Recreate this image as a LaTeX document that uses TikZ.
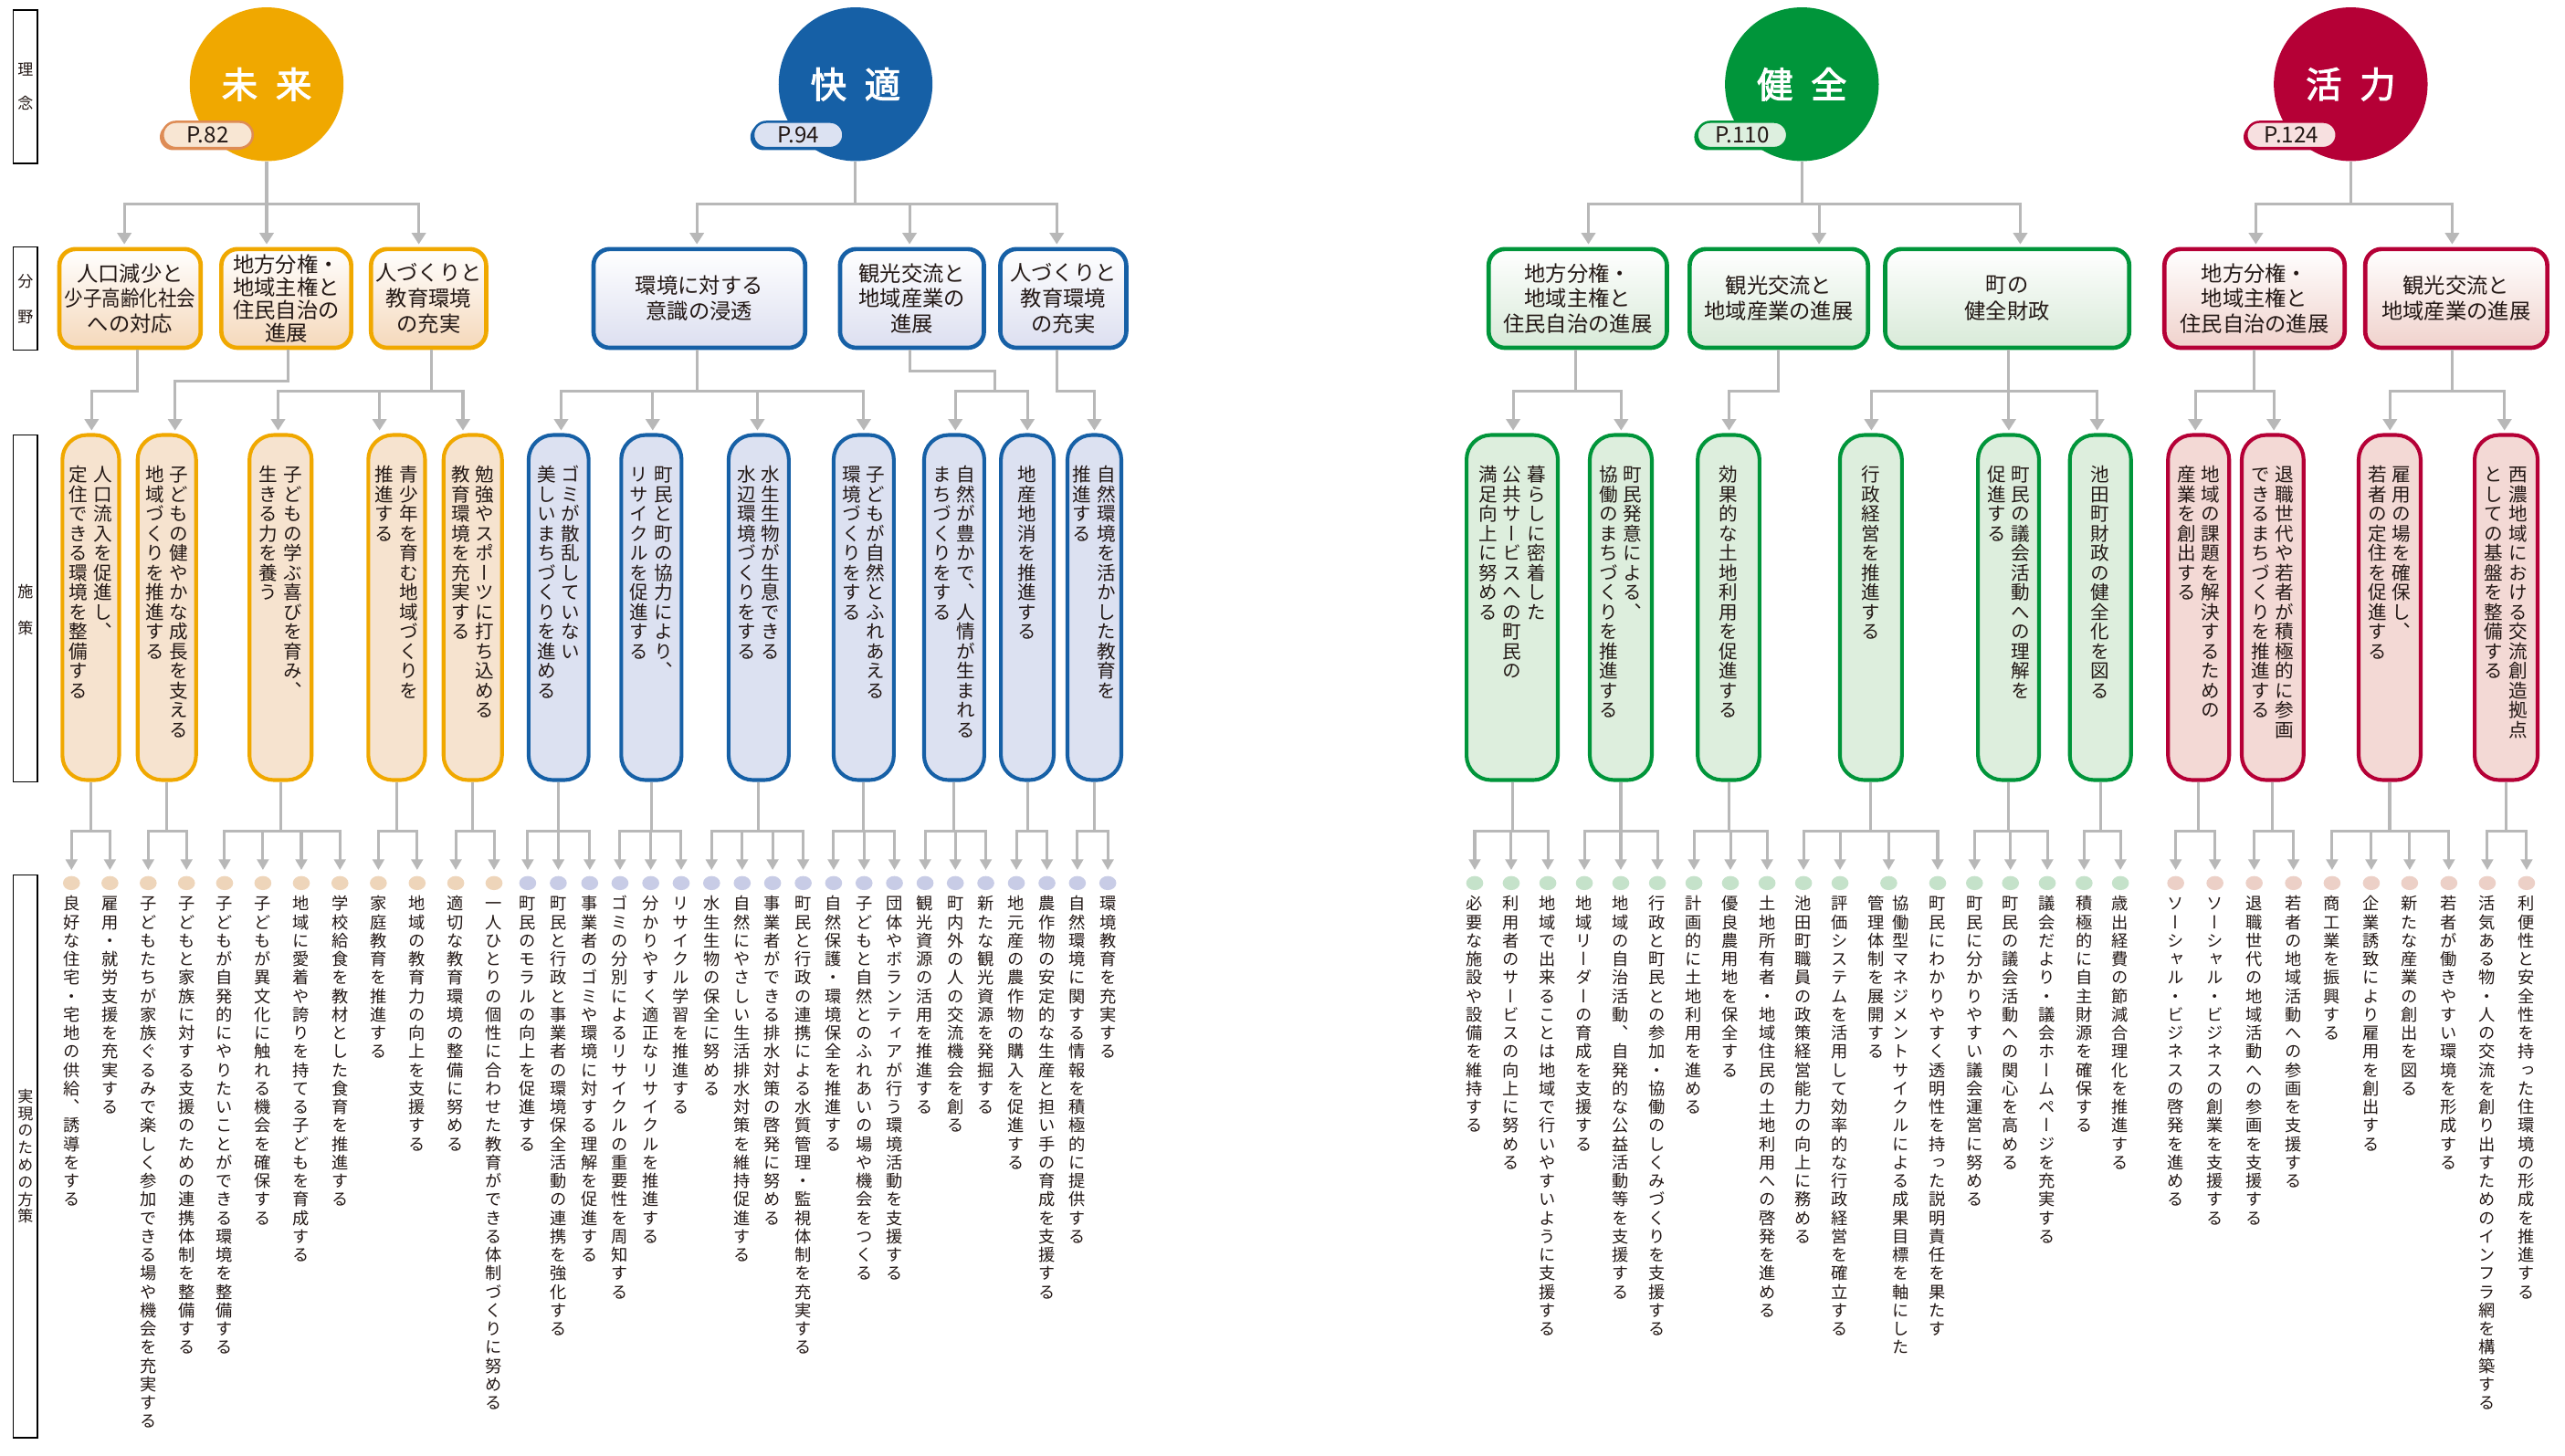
\documentclass[tikz,border=0pt]{standalone}
\usepackage{graphicx}
\usepackage{fontspec}
\setmainfont{Noto Sans CJK JP}
\newfontfamily\jpv[RawFeature=+vert]{Noto Sans CJK JP}
\newfontfamily\jpb[FakeBold=2.5]{Noto Sans CJK JP}
\usetikzlibrary{arrows.meta,shapes.geometric}

\definecolor{txt}{HTML}{231815}
\definecolor{lnc}{HTML}{B8B8B8}
\definecolor{oC}{HTML}{F0A800}
\definecolor{oF}{HTML}{F6E3CF}
\definecolor{oG}{HTML}{F5D8BA}
\definecolor{oD}{HTML}{EED5BA}
\definecolor{oT}{HTML}{DE8C55}
\definecolor{oTF}{HTML}{F8E6D3}
\definecolor{bC}{HTML}{1660A6}
\definecolor{bF}{HTML}{DCE1F1}
\definecolor{bG}{HTML}{DCDFF0}
\definecolor{bD}{HTML}{C8CCE6}
\definecolor{bTF}{HTML}{DCE2F2}
\definecolor{gC}{HTML}{00953A}
\definecolor{gF}{HTML}{DDEEDD}
\definecolor{gG}{HTML}{D8EAD8}
\definecolor{gD}{HTML}{C5E2CA}
\definecolor{gTF}{HTML}{DDEFDF}
\definecolor{rC}{HTML}{B50036}
\definecolor{rF}{HTML}{F3D9D5}
\definecolor{rG}{HTML}{F0D2CC}
\definecolor{rD}{HTML}{ECD0C7}
\definecolor{rTF}{HTML}{F7E0E0}

\ExplSyntaxOn
\dim_new:N \l__vt_pitch_dim
\dim_new:N \l__vt_gap_dim
\tl_new:N \l__vt_text_tl
\NewDocumentCommand{\SetPitch}{mm}{ \dim_set:Nn \l__vt_pitch_dim {#1} \dim_set:Nn \l__vt_gap_dim {#2} }
\NewDocumentCommand{\VC}{m}
 {
  \tl_set:Nx \l__vt_text_tl {#1}
  \vtop
   {
    \baselineskip = \l__vt_pitch_dim
    \lineskip = 0pt
    \lineskiplimit = -\maxdimen
    \tl_map_inline:Nn \l__vt_text_tl { \hbox_to_wd:nn { 1em } { \hss ##1 \hss } }
   }
 }
\NewDocumentCommand{\VV}{mm}{ \VC{#2} \hskip \l__vt_gap_dim \VC{#1} }
\NewDocumentCommand{\VVV}{mmm}{ \VC{#3} \hskip \l__vt_gap_dim \VC{#2} \hskip \l__vt_gap_dim \VC{#1} }
\ExplSyntaxOff

\tikzset{
  conn/.style={draw=lnc, line width=1.7pt},
  arr/.style={conn, -{Triangle[width=8.5pt,length=7pt]}, shorten >=1.6pt},
  arrs/.style={conn, -{Triangle[width=7pt,length=6.5pt]}, shorten >=3.5pt},
  circ/.style={circle, fill=#1, minimum size=94pt, inner sep=0pt, text=white, font=\jpb\fontsize{22pt}{22pt}\selectfont},
  tagbox/.style 2 args={draw=#1, fill=#2, line width=1.4pt, rounded corners=8pt, minimum width=55pt, minimum height=16pt, inner sep=0pt, text=txt, font=\fontsize{13.5pt}{13.5pt}\selectfont, preaction={fill=#1, transform canvas={xshift=-1.8pt, yshift=-1.3pt}}},
  cat/.style 2 args={draw=#1, top color=white, bottom color=#2, line width=2.6pt, rounded corners=10pt, minimum height=60.4pt, inner sep=0pt, align=center, text=txt, font=\fontsize{13pt}{15.5pt}\selectfont},
  pbox/.style 2 args={draw=#1, fill=#2, line width=2.3pt, rounded corners=15pt, minimum height=211pt, inner sep=0pt},
  ptext/.style={anchor=base, inner sep=0pt, text=txt, font=\jpv\fontsize{11.5pt}{12pt}\selectfont\SetPitch{12pt}{3.3pt}},
  bdot/.style={ellipse, fill=#1, minimum width=10.4pt, minimum height=8.6pt, inner sep=0pt},
  btext/.style={anchor=base, inner sep=0pt, text=txt, font=\jpv\fontsize{10.2pt}{11.3pt}\selectfont\SetPitch{11.3pt}{4.8pt}},
  lbl/.style={draw=black, line width=0.9pt, minimum width=15pt, inner sep=0pt},
  lbltext/.style={inner sep=0pt, text=txt, font=\jpv\fontsize{9.5pt}{#1}\selectfont\SetPitch{#1}{0pt}},
}

\begin{document}
\begin{tikzpicture}[x=1pt,y=-1pt]
\useasboundingbox (0,0) rectangle (1568,890);
\fill[white] (0,0) rectangle (1568,890);

% ---------- left labels ----------
\node[lbl, minimum height=94pt] (L1) at (15.5,53) {};
\node[lbltext=21pt] (L1t) at (15.5,53) {\VC{理念}};
\node[lbl, minimum height=63pt] (L2) at (15.5,182.5) {};
\node[lbltext=22pt] (L2t) at (15.5,183) {\VC{分野}};
\node[lbl, minimum height=212pt] (L3) at (15.5,372) {};
\node[lbltext=22pt] (L3t) at (15.5,373) {\VC{施策}};
\node[lbl, minimum height=344pt] (L4) at (15.5,707) {};
\node[lbltext=10.5pt] (L4t) at (15.5,707) {\VC{実現のための方策}};

% ---------- circles ----------
\node[circ=oC] (k1) at (163,51.5) {未\hspace{11pt}来};
\node[circ=bC] (k2) at (523,51.5) {快\hspace{11pt}適};
\node[circ=gC] (k3) at (1101.5,51.5) {健\hspace{11pt}全};
\node[circ=rC] (k4) at (1437,51.5) {活\hspace{11pt}力};

\node[tagbox={oT}{oTF}] (t1) at (127,82.5) {P.82};
\node[tagbox={bC}{bTF}] (t2) at (488,82.5) {P.94};
\node[tagbox={gC}{gTF}] (t3) at (1065,82.5) {P.110};
\node[tagbox={rC}{rTF}] (t4) at (1400.8,82.5) {P.124};

% ---------- categories ----------
\node[cat={oC}{oG}, minimum width=86.4pt] (c1) at (79.5,182.5) {人口減少と\\\scalebox{0.88}[1]{少子高齢化社会}\\への対応};
\node[cat={oC}{oG}, minimum width=79.4pt, font=\fontsize{13pt}{14pt}\selectfont] (c2) at (175,182.5) {地方分権・\\地域主権と\\住民自治の\\進展};
\node[cat={oC}{oG}, minimum width=70.4pt] (c3) at (262,182.5) {人づくりと\\教育環境\\の充実};
\node[cat={bC}{bG}, minimum width=129.4pt] (c4) at (427.5,182.5) {環境に対する\\意識の浸透};
\node[cat={bC}{bG}, minimum width=88pt] (c5) at (557.5,182.5) {観光交流と\\地域産業の\\進展};
\node[cat={bC}{bG}, minimum width=77pt] (c6) at (650,182.5) {人づくりと\\教育環境\\の充実};
\node[cat={gC}{gG}, minimum width=109pt] (c7) at (964.5,182.5) {地方分権・\\地域主権と\\住民自治の進展};
\node[cat={gC}{gG}, minimum width=109pt] (c8) at (1087.4,182.5) {観光交流と\\地域産業の進展};
\node[cat={gC}{gG}, minimum width=149.2pt, font=\fontsize{13pt}{16pt}\selectfont] (c9) at (1227,182.5) {町の\\健全財政};
\node[cat={rC}{rG}, minimum width=110.2pt] (c10) at (1378.2,182.5) {地方分権・\\地域主権と\\住民自治の進展};
\node[cat={rC}{rG}, minimum width=111.3pt] (c11) at (1501.5,182.5) {観光交流と\\地域産業の進展};

% ---------- level 1 connectors ----------
\coordinate (bar1) at (0,125);
\draw[arr] (k1.south) -- (bar1 -| k1.south) -| (c1.north -| 76,0);
\draw[arr] (k1.south) -- (c2.north -| k1.south);
\draw[arr] (k1.south) -- (bar1 -| k1.south) -| (c3.north -| 256,0);
\draw[arr] (k2.south) -- (bar1 -| k2.south) -| (c4.north -| 426,0);
\draw[arr] (k2.south) -- (bar1 -| k2.south) -| (c5.north -| 556,0);
\draw[arr] (k2.south) -- (bar1 -| k2.south) -| (c6.north -| 646,0);
\draw[arr] (k3.south) -- (bar1 -| k3.south) -| (c7.north -| 971,0);
\draw[arr] (k3.south) -- (bar1 -| k3.south) -| (c8.north -| 1112,0);
\draw[arr] (k3.south) -- (bar1 -| k3.south) -| (c9.north -| 1235,0);
\draw[arr] (k4.south) -- (bar1 -| k4.south) -| (c10.north -| 1379,0);
\draw[arr] (k4.south) -- (bar1 -| k4.south) -| (c11.north -| 1499,0);

% ---------- policy boxes ----------
\node[pbox={oC}{oF}, minimum width=34.7pt] (p1) at (55.5,371.5) {};
\node[ptext] (p1t) at (55.5,294.5) {\VV{人口流入を促進し、}{定住できる環境を整備する}};
\node[pbox={oC}{oF}, minimum width=35.7pt] (p2) at (102,371.5) {};
\node[ptext] (p2t) at (102,294.5) {\VV{子どもの健やかな成長を支える}{地域づくりを推進する}};
\node[pbox={oC}{oF}, minimum width=38pt] (p3) at (171.5,371.5) {};
\node[ptext] (p3t) at (171.5,294.5) {\VV{子どもの学ぶ喜びを育み、}{生きる力を養う}};
\node[pbox={oC}{oF}, minimum width=34.7pt] (p4) at (242.5,371.5) {};
\node[ptext] (p4t) at (242.5,294.5) {\VV{青少年を育む地域づくりを}{推進する}};
\node[pbox={oC}{oF}, minimum width=35.7pt] (p5) at (289,371.5) {};
\node[ptext] (p5t) at (289,294.5) {\VV{勉強やスポーツに打ち込める}{教育環境を充実する}};

\node[pbox={bC}{bF}, minimum width=36.7pt] (p6) at (341.5,371.5) {};
\node[ptext] (p6t) at (341.5,294.5) {\VV{ゴミが散乱していない}{美しいまちづくりを進める}};
\node[pbox={bC}{bF}, minimum width=36.9pt] (p7) at (398.2,371.5) {};
\node[ptext] (p7t) at (398.2,294.5) {\VV{町民と町の協力により、}{リサイクルを促進する}};
\node[pbox={bC}{bF}, minimum width=36.8pt] (p8) at (463.8,371.5) {};
\node[ptext] (p8t) at (463.8,294.5) {\VV{水生生物が生息できる}{水辺環境づくりをする}};
\node[pbox={bC}{bF}, minimum width=36.8pt] (p9) at (528,371.5) {};
\node[ptext] (p9t) at (528,294.5) {\VV{子どもが自然とふれあえる}{環境づくりをする}};
\node[pbox={bC}{bF}, minimum width=36.8pt] (p10) at (583.3,371.5) {};
\node[ptext] (p10t) at (583.3,294.5) {\VV{自然が豊かで、人情が生まれる}{まちづくりをする}};
\node[pbox={bC}{bF}, minimum width=32.3pt] (p11) at (628,371.5) {};
\node[ptext] (p11t) at (628,294.5) {\VC{地産地消を推進する}};
\node[pbox={bC}{bF}, minimum width=32.9pt] (p12) at (669,371.5) {};
\node[ptext] (p12t) at (669,294.5) {\VV{自然環境を活かした教育を}{推進する}};

\node[pbox={gC}{gF}, minimum width=55.8pt] (p13) at (924.4,371.5) {};
\node[ptext] (p13t) at (924.4,294.5) {\VVV{暮らしに密着した}{公共サービスへの町民の}{満足向上に努める}};
\node[pbox={gC}{gF}, minimum width=37.9pt] (p14) at (990.8,371.5) {};
\node[ptext] (p14t) at (990.8,294.5) {\VV{町民発意による、}{協働のまちづくりを推進する}};
\node[pbox={gC}{gF}, minimum width=37.8pt] (p15) at (1056.7,371.5) {};
\node[ptext] (p15t) at (1056.7,294.5) {\VC{効果的な土地利用を促進する}};
\node[pbox={gC}{gF}, minimum width=37.9pt] (p16) at (1143.7,371.5) {};
\node[ptext] (p16t) at (1143.7,294.5) {\VC{行政経営を推進する}};
\node[pbox={gC}{gF}, minimum width=37.3pt] (p17) at (1227.8,371.5) {};
\node[ptext] (p17t) at (1227.8,294.5) {\VV{町民の議会活動への理解を}{促進する}};
\node[pbox={gC}{gF}, minimum width=37.4pt] (p18) at (1284,371.5) {};
\node[ptext] (p18t) at (1284,294.5) {\VC{池田町財政の健全化を図る}};

\node[pbox={rC}{rF}, minimum width=37.4pt] (p19) at (1344,371.5) {};
\node[ptext] (p19t) at (1344,294.5) {\VV{地域の課題を解決するための}{産業を創出する}};
\node[pbox={rC}{rF}, minimum width=37.8pt] (p20) at (1389.3,371.5) {};
\node[ptext] (p20t) at (1389.3,294.5) {\VV{退職世代や若者が積極的に参画}{できるまちづくりを推進する}};
\node[pbox={rC}{rF}, minimum width=37.9pt] (p21) at (1460.8,371.5) {};
\node[ptext] (p21t) at (1460.8,294.5) {\VV{雇用の場を確保し、}{若者の定住を促進する}};
\node[pbox={rC}{rF}, minimum width=38.5pt] (p22) at (1532,371.5) {};
\node[ptext] (p22t) at (1532,294.5) {\VV{西濃地域における交流創造拠点}{としての基盤を整備する}};

% ---------- level 2 connectors ----------
\coordinate (bar2) at (0,239);
\coordinate (bar2a) at (0,233);
\coordinate (bar2b) at (0,227);
\draw[arr] (c1.south -| 84,0) -- (bar2 -| 84,0) -| (p1.north -| 56,0);
\draw[arr] (c2.south -| 176,0) -- (bar2a -| 176,0) -| (p2.north -| 107,0);
\draw[arr] (c3.south -| 264,0) -- (bar2 -| 264,0) -| (p3.north -| 170,0);
\draw[arr] (c3.south -| 264,0) -- (bar2 -| 264,0) -| (p4.north -| 232,0);
\draw[arr] (c3.south -| 264,0) -- (bar2 -| 264,0) -| (p5.north -| 283,0);
\draw[arr] (c4.south -| 426,0) -- (bar2 -| 426,0) -| (p6.north -| 343,0);
\draw[arr] (c4.south -| 426,0) -- (bar2 -| 426,0) -| (p7.north -| 399,0);
\draw[arr] (c4.south -| 426,0) -- (bar2 -| 426,0) -| (p8.north -| 463,0);
\draw[arr] (c4.south -| 426,0) -- (bar2 -| 426,0) -| (p9.north -| 528,0);
\draw[arr] (c5.south -| 556,0) -- (bar2b -| 556,0) -| (bar2 -| 608,0) -| (p10.north -| 584,0);
\draw[arr] (c5.south -| 556,0) -- (bar2b -| 556,0) -| (bar2 -| 608,0) -| (p11.north -| 628,0);
\draw[arr] (c6.south -| 646,0) -- (bar2 -| 646,0) -| (p12.north -| 669,0);
\draw[arr] (c7.south -| 963,0) -- (bar2 -| 963,0) -| (p13.north -| 925,0);
\draw[arr] (c7.south -| 963,0) -- (bar2 -| 963,0) -| (p14.north -| 991,0);
\draw[arr] (c8.south -| 1087,0) -- (bar2 -| 1087,0) -| (p15.north -| 1057,0);
\draw[arr] (c9.south -| 1228,0) -- (bar2 -| 1228,0) -| (p16.north -| 1144,0);
\draw[arr] (c9.south -| 1228,0) -- (p17.north -| 1228,0);
\draw[arr] (c9.south -| 1228,0) -- (bar2 -| 1228,0) -| (p18.north -| 1282,0);
\draw[arr] (c10.south -| 1378,0) -- (bar2 -| 1378,0) -| (p19.north -| 1342,0);
\draw[arr] (c10.south -| 1378,0) -- (bar2 -| 1378,0) -| (p20.north -| 1390,0);
\draw[arr] (c11.south -| 1499,0) -- (bar2 -| 1499,0) -| (p21.north -| 1461,0);
\draw[arr] (c11.south -| 1499,0) -- (bar2 -| 1499,0) -| (p22.north -| 1531,0);

% ---------- bottom items ----------
\foreach \nm/\xx/\txt in {
a1/43.7/良好な住宅・宅地の供給、誘導をする,
a2/67.2/雇用・就労支援を充実する,
a3/90.6/子どもたちが家族ぐるみで楽しく参加できる場や機会を充実する,
a4/114/子どもと家族に対する支援のための連携体制を整備する,
a5/137.3/子どもが自発的にやりたいことができる環境を整備する,
a6/160.7/子どもが異文化に触れる機会を確保する,
a7/184.2/地域に愛着や誇りを持てる子どもを育成する,
a8/207.8/学校給食を教材とした食育を推進する,
a9/231.3/家庭教育を推進する,
a10/255/地域の教育力の向上を支援する,
a11/278.6/適切な教育環境の整備に努める,
a12/302/一人ひとりの個性に合わせた教育ができる体制づくりに努める}{
  \node[bdot=oD] (\nm) at (\xx,540) {};
  \node[btext] (\nm t) at (\xx,556.5) {\VC{\txt}};
}
\foreach \nm/\xx/\txt in {
b1/322.6/町民のモラルの向上を促進する,
b2/341.3/町民と行政と事業者の環境保全活動の連携を強化する,
b3/360.5/事業者のゴミや環境に対する理解を促進する,
b4/379/ゴミの分別によるリサイクルの重要性を周知する,
b5/397.8/分かりやすく適正なリサイクルを推進する,
b6/416.4/リサイクル学習を推進する,
b7/435/水生生物の保全に努める,
b8/453.7/自然にやさしい生活排水対策を維持促進する,
b9/472.3/事業者ができる排水対策の啓発に努める,
b10/491/町民と行政の連携による水質管理・監視体制を充実する,
b11/509.6/自然保護・環境保全を推進する,
b12/528.2/子どもと自然とのふれあいの場や機会をつくる,
b13/546.8/団体やボランティアが行う環境活動を支援する,
b14/565.5/観光資源の活用を推進する,
b15/584/町内外の人の交流機会を創る,
b16/602.6/新たな観光資源を発掘する,
b17/621.3/地元産の農作物の購入を促進する,
b18/640/農作物の安定的な生産と担い手の育成を支援する,
b19/658.6/自然環境に関する情報を積極的に提供する,
b20/677.2/環境教育を充実する}{
  \node[bdot=bD] (\nm) at (\xx,540) {};
  \node[btext] (\nm t) at (\xx,556.5) {\VC{\txt}};
}
\foreach \nm/\xx/\txt in {
g1/901.5/必要な施設や設備を維持する,
g2/923.8/利用者のサービスの向上に努める,
g3/946.2/地域で出来ることは地域で行いやすいように支援する,
g4/968.5/地域リーダーの育成を支援する,
g5/990.8/地域の自治活動、自発的な公益活動等を支援する,
g6/1013.2/行政と町民との参加・協働のしくみづくりを支援する,
g7/1035.5/計画的に土地利用を進める,
g8/1057.8/優良農用地を保全する,
g9/1080.2/土地所有者・地域住民の土地利用への啓発を進める,
g10/1102.5/池田町職員の政策経営能力の向上に務める,
g11/1124.8/評価システムを活用して効率的な行政経営を確立する,
g13/1184.5/町民にわかりやすく透明性を持った説明責任を果たす,
g14/1207/町民に分かりやすい議会運営に努める,
g15/1229/町民の議会活動への関心を高める,
g16/1251.5/議会だより・議会ホームページを充実する,
g17/1274/積極的に自主財源を確保する,
g18/1296.2/歳出経費の節減合理化を推進する}{
  \node[bdot=gD] (\nm) at (\xx,540) {};
  \node[btext] (\nm t) at (\xx,556.5) {\VC{\txt}};
}
\node[bdot=gD] (g12) at (1154.6,540) {};
\node[btext] (g12t) at (1154.6,556.5) {\VV{協働型マネジメントサイクルによる成果目標を軸にした}{管理体制を展開する}};
\foreach \nm/\xx/\txt in {
v1/1330/ソーシャル・ビジネスの啓発を進める,
v2/1354/ソーシャル・ビジネスの創業を支援する,
v3/1378/退職世代の地域活動への参画を支援する,
v4/1402/若者の地域活動への参画を支援する,
v5/1425.6/商工業を振興する,
v6/1449.6/企業誘致により雇用を創出する,
v7/1473/新たな産業の創出を図る,
v8/1497/若者が働きやすい環境を形成する,
v9/1520.5/活気ある物・人の交流を創り出すためのインフラ網を構築する,
v10/1544.5/利便性と安全性を持った住環境の形成を推進する}{
  \node[bdot=rD] (\nm) at (\xx,540) {};
  \node[btext] (\nm t) at (\xx,556.5) {\VC{\txt}};
}

% ---------- level 3 connectors ----------
\coordinate (bar3) at (0,508);
\foreach \p/\ds in {p1/{a1,a2}, p2/{a3,a4}, p3/{a5,a6,a7,a8}, p4/{a9,a10}, p5/{a11,a12},
  p6/{b1,b2,b3}, p7/{b4,b5,b6}, p8/{b7,b8,b9,b10}, p9/{b11,b12,b13}, p10/{b14,b15,b16},
  p11/{b17,b18}, p12/{b19,b20},
  p13/{g1,g2,g3}, p14/{g4,g5,g6}, p15/{g7,g8,g9}, p16/{g10,g11,g12,g13}, p17/{g14,g15,g16}, p18/{g17,g18},
  p19/{v1,v2}, p20/{v3,v4}, p21/{v5,v6,v7,v8}, p22/{v9,v10}}{
  \foreach \d in \ds {
    \draw[arrs] (\p.south) -- (bar3 -| \p.south) -| (\d.north);
  }
}
\end{tikzpicture}
\end{document}
